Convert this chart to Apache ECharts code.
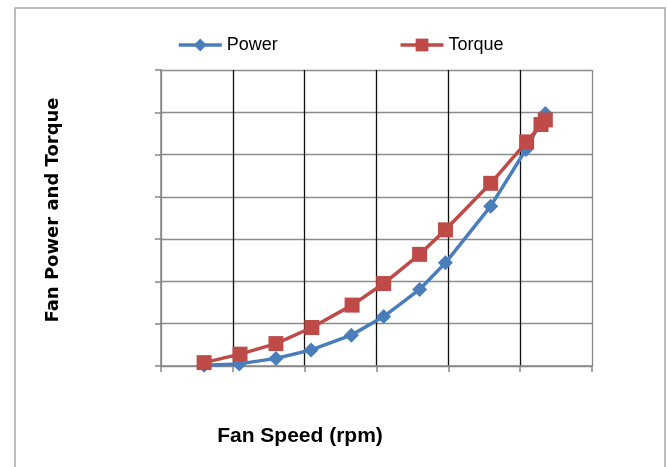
<!DOCTYPE html>
<html>
<head>
<meta charset="utf-8">
<script src="https://cdn.jsdelivr.net/npm/echarts@6/dist/echarts.min.js"></script>
<style>html,body{margin:0;padding:0;background:#fff;}#c{width:667px;height:467px;}</style>
</head>
<body>
<div id="c"></div>
<script>
// Data (arbitrary units; axes have no labels)
var powerSpeed = [0.60, 1.09, 1.60, 2.09, 2.65, 3.10, 3.60, 3.96, 4.59, 5.08, 5.35];
var powerValues = [0.02, 0.05, 0.18, 0.38, 0.73, 1.17, 1.81, 2.44, 3.78, 5.12, 5.97];
var torqueSpeed = [0.60, 1.10, 1.60, 2.10, 2.66, 3.10, 3.60, 3.96, 4.59, 5.09, 5.29, 5.35];
var torqueValues = [0.08, 0.28, 0.53, 0.91, 1.44, 1.95, 2.64, 3.22, 4.32, 5.30, 5.71, 5.82];
var seriesNames = ['Power', 'Torque'];
var xTitle = 'Fan Speed (rpm)';
var yTitle = 'Fan Power and Torque';

function pairs(xs, ys) { return xs.map(function (x, i) { return [x, ys[i]]; }); }

var chart = echarts.init(document.getElementById('c'), null, { renderer: 'canvas' });
chart.setOption({
  backgroundColor: '#ffffff',
  animation: false,
  graphic: [
    { type: 'rect', left: 12.5, top: 5.5, shape: { x: 0, y: 0, width: 650, height: 500 },
      style: { fill: 'none', stroke: '#a6a6a6', lineWidth: 1.5 }, silent: true },
    { type: 'text', x: 300, y: 436,
      style: { text: xTitle, fill: '#000', font: 'bold 21px "Liberation Sans", Arial, sans-serif',
               textAlign: 'center', textVerticalAlign: 'middle' } },
    { type: 'text', x: 53, y: 210, rotation: Math.PI / 2,
      style: { text: yTitle, fill: '#000', font: 'bold 18px "DejaVu Sans", sans-serif',
               textAlign: 'center', textVerticalAlign: 'middle' } }
  ],
  legend: {
    left: 172, top: 31,
    itemWidth: 43, itemHeight: 16, itemGap: 121,
    lineStyle: { width: 3.5 },
    textStyle: { fontFamily: '"Liberation Sans", Arial, sans-serif', fontSize: 18, color: '#000' },
    data: seriesNames
  },
  grid: { left: 161, right: 75, top: 70, bottom: 101 },
  xAxis: {
    type: 'value', min: 0, max: 6, interval: 1,
    axisLabel: { show: false },
    axisLine: { show: true, lineStyle: { color: '#868686', width: 1.5 } },
    axisTick: { show: true, inside: false, length: 6, lineStyle: { color: '#868686', width: 1.5 } },
    splitLine: { show: true, lineStyle: { color: ['#868686', '#111111', '#111111', '#111111', '#111111', '#111111', '#868686'], width: 1.3 } }
  },
  yAxis: {
    type: 'value', min: 0, max: 7, interval: 1,
    axisLabel: { show: false },
    axisLine: { show: true, lineStyle: { color: '#868686', width: 1.5 } },
    axisTick: { show: true, inside: false, length: 6, lineStyle: { color: '#868686', width: 1.5 } },
    splitLine: { show: true, lineStyle: { color: '#8c8c8c', width: 1.3 } }
  },
  series: [
    {
      name: seriesNames[0], type: 'line', data: pairs(powerSpeed, powerValues),
      symbol: 'diamond', symbolSize: 15,
      lineStyle: { color: '#4a7ebb', width: 3.5 },
      itemStyle: { color: '#4a7ebb' }, z: 3
    },
    {
      name: seriesNames[1], type: 'line', data: pairs(torqueSpeed, torqueValues),
      symbol: 'rect', symbolSize: 15,
      lineStyle: { color: '#be4b48', width: 3.5 },
      itemStyle: { color: '#be4b48' }, z: 4
    }
  ]
});
</script>
</body>
</html>
